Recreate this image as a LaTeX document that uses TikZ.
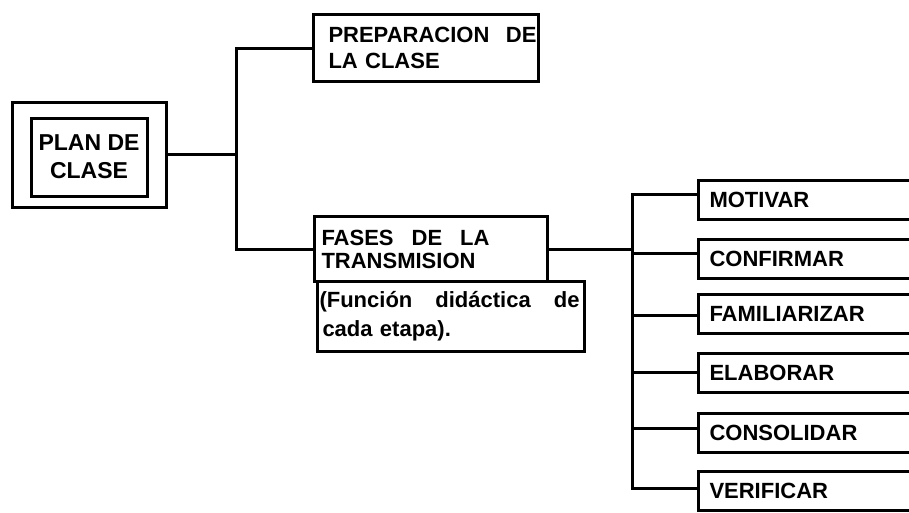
\documentclass[tikz,border=0pt]{standalone}
\usepackage{fontspec}
\setmainfont{Liberation Sans}
\begin{document}
\begin{tikzpicture}[x=1pt,y=-1pt,line width=3pt,line cap=rect,
  box/.style={draw,rectangle,inner ysep=0pt,align=left,
    font=\bfseries\fontsize{22}{26}\selectfont},
  leaf/.style={box,anchor=west,minimum width=300pt,minimum height=39pt,
    text width=278pt,inner xsep=11pt}]
\useasboundingbox (0,0) rectangle (909,512);
\fill[white] (0,0) rectangle (909,512);
\clip (0,0) rectangle (909,512);
% left double box
\node[box,minimum width=154pt,minimum height=105pt] (planout) at (89,154.5) {};
\node[box,minimum width=116pt,minimum height=78pt,align=center,
  font=\bfseries\fontsize{23}{28}\selectfont] (plan) at (89,157) {PLAN DE\\CLASE};
% second level
\node[box,anchor=north west,minimum height=67pt,text width=195pt,inner xsep=15pt]
  (prep) at (312,13) {\makebox[208pt][l]{PREPARACION\hfill DE}\\LA CLASE};
\node[box,anchor=north west,minimum height=65pt,text width=219pt,inner xsep=7pt,
  font=\bfseries\fontsize{22}{23}\selectfont]
  (fases) at (313,215) {\makebox[168pt][l]{FASES\hfill DE\hfill LA}\\TRANSMISION};
\node[box,anchor=north west,minimum height=70pt,text width=263pt,inner xsep=2pt,
  font=\bfseries\fontsize{22}{29}\selectfont]
  (func) at (316,280) {\makebox[260pt][l]{(Función\hfill didáctica\hfill de}\\\hspace*{3pt}cada etapa).};
% leaves
\node[leaf] (m1) at (697,200) {MOTIVAR};
\node[leaf] (m2) at (697,258.5) {CONFIRMAR};
\node[leaf] (m3) at (697,313.5) {FAMILIARIZAR};
\node[leaf] (m4) at (697,373) {ELABORAR};
\node[leaf] (m5) at (697,433) {CONSOLIDAR};
\node[leaf] (m6) at (697,491) {VERIFICAR};
% connectors left
\coordinate (j) at (236,151);
\draw (prep.west) -| (j) |- (fases.west);
\draw (planout.east) -- (planout.east -| j);
% bus
\coordinate (b1) at (632,194);
\coordinate (b2) at (632,253);
\coordinate (b3) at (632,315);
\coordinate (b4) at (632,372);
\coordinate (b5) at (632,428);
\coordinate (b6) at (632,488);
\draw (b1 -| m1.west) -- (b1) -- (b6) -- (b6 -| m6.west);
\draw (b2) -- (b2 -| m2.west);
\draw (b3) -- (b3 -| m3.west);
\draw (b4) -- (b4 -| m4.west);
\draw (b5) -- (b5 -| m5.west);
\draw (fases.east) -- (fases.east -| b1);
\end{tikzpicture}
\end{document}
